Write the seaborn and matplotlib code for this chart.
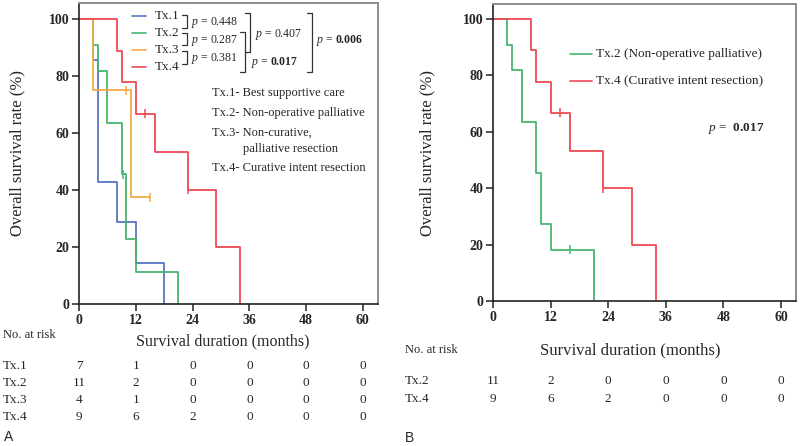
import matplotlib
matplotlib.use("Agg")
import matplotlib.pyplot as plt
import pandas as pd
import seaborn as sns
from matplotlib.lines import Line2D
from matplotlib.transforms import blended_transform_factory

# --- data (months, % surviving) ---
tx1_time = [0, 3, 4, 8, 12, 18]
tx1_surv = [100, 85.7, 42.9, 28.6, 14.3, 0]

tx2_time = [0, 3, 4, 6, 9, 10, 12, 21]
tx2_surv_a = [100, 90.9, 81.8, 63.6, 45.5, 22.7, 11.4, 0]
tx2_surv_b = [100, 90.9, 81.8, 63.6, 45.5, 27.3, 18.2, 0]

tx3_time = [0, 3, 11, 15]
tx3_surv = [100, 75, 37.5, 37.5]

tx4_time = [0, 8, 9, 12, 16, 23, 29, 34]
tx4_surv = [100, 88.9, 77.8, 66.7, 53.3, 40, 20, 0]

# censored observations
cens_a_group = ["Tx.2", "Tx.3", "Tx.3", "Tx.4", "Tx.4"]
cens_a_time = [9.3, 10, 15, 14, 23]
cens_a_surv = [45.5, 75, 37.5, 66.7, 40]
cens_b_group = ["Tx.2", "Tx.4", "Tx.4"]
cens_b_time = [16, 14, 23]
cens_b_surv = [18.2, 66.7, 40]

ticks = [0, 12, 24, 36, 48, 60]
risk_a = {"Tx.1": [7, 1, 0, 0, 0, 0],
          "Tx.2": [11, 2, 0, 0, 0, 0],
          "Tx.3": [4, 1, 0, 0, 0, 0],
          "Tx.4": [9, 6, 2, 0, 0, 0]}
risk_b = {"Tx.2": [11, 2, 0, 0, 0, 0],
          "Tx.4": [9, 6, 2, 0, 0, 0]}

palette = {"Tx.1": "#5676c4", "Tx.2": "#45b56e", "Tx.3": "#f5aa45", "Tx.4": "#ee4a55"}

sns.set_style("white")
plt.rcParams["font.family"] = ["Liberation Serif", "DejaVu Serif"]
plt.rcParams["mathtext.fontset"] = "custom"
plt.rcParams["mathtext.rm"] = "Liberation Serif"
plt.rcParams["mathtext.it"] = "Liberation Serif:italic"
plt.rcParams["mathtext.bf"] = "Liberation Serif:bold"

W, H = 800, 446
fig = plt.figure(figsize=(8, 4.46), dpi=100)


def px(x, y):
    return x / W, 1 - y / H


def curves(groups):
    rows = []
    for name, t, s in groups:
        for a, b in zip(t, s):
            rows.append({"group": name, "time": a, "surv": b})
    return pd.DataFrame(rows)


def style_axes(ax, xmax, ymax):
    ax.set_xlim(0, xmax)
    ax.set_ylim(0, ymax)
    ax.set_xticks(ticks)
    ax.set_yticks([0, 20, 40, 60, 80, 100])
    for s in ["top", "right"]:
        ax.spines[s].set_color("#8c8c8c")
        ax.spines[s].set_linewidth(1.4)
    for s in ["left", "bottom"]:
        ax.spines[s].set_color("#222222")
        ax.spines[s].set_linewidth(1.2)
    ax.tick_params(direction="out", length=5, width=1.1, color="#222222",
                   labelsize=10, pad=2, left=True, bottom=True)
    for lab in ax.get_xticklabels() + ax.get_yticklabels():
        lab.set_fontweight("bold")
    ax.set_xlabel("")
    ax.set_ylabel("Overall survival rate (%)", fontsize=12)


def km(ax, df, cens):
    sns.lineplot(data=df, x="time", y="surv", hue="group", palette=palette,
                 drawstyle="steps-post", estimator=None, sort=False,
                 linewidth=1.3, legend=False, ax=ax)
    sns.scatterplot(data=cens, x="time", y="surv", hue="group", palette=palette,
                    marker="|", s=40, linewidth=1.1, legend=False, ax=ax)


# ---------------- panel A ----------------
axA = fig.add_axes([79 / W, 1 - 304 / H, 299 / W, 301 / H])
dfA = curves([("Tx.1", tx1_time, tx1_surv), ("Tx.2", tx2_time, tx2_surv_a),
              ("Tx.3", tx3_time, tx3_surv), ("Tx.4", tx4_time, tx4_surv)])
censA = pd.DataFrame({"group": cens_a_group, "time": cens_a_time, "surv": cens_a_surv})
km(axA, dfA, censA)
style_axes(axA, 63.2, 105.6)
axA.yaxis.set_label_coords(-0.18, 0.5)

# legend with p-value brackets
leg_y = {"Tx.1": 16, "Tx.2": 33, "Tx.3": 50, "Tx.4": 67}
for name, y in leg_y.items():
    fig.add_artist(Line2D([132 / W, 146 / W], [1 - y / H] * 2, color=palette[name], lw=1.2))
    fig.text(*px(155, y), name, fontsize=9.5, va="center")


def bracket(x0, x1, y0, y1):
    xs = [x0 / W, x1 / W, x1 / W, x0 / W]
    ys = [1 - y0 / H, 1 - y0 / H, 1 - y1 / H, 1 - y1 / H]
    fig.add_artist(Line2D(xs, ys, color="#333333", lw=0.9))


bracket(182, 187, 15, 28)
bracket(182, 187, 33, 45)
bracket(182, 187, 51, 64)
fig.text(*px(191, 22), r"$p$ = 0.448", fontsize=8.5, va="center")
fig.text(*px(191, 40), r"$p$ = 0.287", fontsize=8.5, va="center")
fig.text(*px(191, 59), r"$p$ = 0.381", fontsize=8.5, va="center")
bracket(245, 250, 13, 52)
fig.text(*px(255, 34), r"$p$ = 0.407", fontsize=8.5, va="center")
bracket(240, 245, 32, 72)
fig.text(*px(251, 62), r"$p$ = $\mathbf{0.017}$", fontsize=8.5, va="center")
bracket(307, 312, 13, 72)
fig.text(*px(316, 41), r"$p$ = $\mathbf{0.006}$", fontsize=8.5, va="center")

defs = [(212, 93, "Tx.1- Best supportive care"),
        (212, 113, "Tx.2- Non-operative palliative"),
        (212, 133, "Tx.3- Non-curative,"),
        (243, 149, "palliative resection"),
        (212, 168, "Tx.4- Curative intent resection")]
for x, y, s in defs:
    fig.text(*px(x, y), s, fontsize=9, va="center")

# risk table A
fig.text(*px(3, 335), "No. at risk", fontsize=9, va="center")
fig.text(*px(223, 341), "Survival duration (months)", fontsize=11.5, va="center", ha="center")
trA = blended_transform_factory(axA.transData, fig.transFigure)
for i, (name, vals) in enumerate(risk_a.items()):
    y = 1 - (366 + 17 * i) / H
    fig.text(3 / W, y, name, fontsize=9.5, va="center")
    for t, v in zip(ticks, vals):
        axA.text(t, y, str(v), transform=trA, fontsize=9.5, ha="center", va="center")
fig.text(*px(4, 437), "A", fontsize=10, va="center", family="Liberation Sans")

# ---------------- panel B ----------------
axB = fig.add_axes([493 / W, 1 - 301 / H, 303 / W, 297 / H])
dfB = curves([("Tx.2", tx2_time, tx2_surv_b), ("Tx.4", tx4_time, tx4_surv)])
censB = pd.DataFrame({"group": cens_b_group, "time": cens_b_time, "surv": cens_b_surv})
km(axB, dfB, censB)
style_axes(axB, 63.1, 105.3)
axB.yaxis.set_label_coords(-0.19, 0.5)

for name, y, s in [("Tx.2", 54, "Tx.2 (Non-operative palliative)"),
                   ("Tx.4", 81, "Tx.4 (Curative intent resection)")]:
    fig.add_artist(Line2D([570 / W, 592 / W], [1 - y / H] * 2, color=palette[name], lw=1.2))
    fig.text(*px(596, y), s, fontsize=9.5, va="center")
fig.text(*px(708, 128), r"$p$ =  $\mathbf{0.017}$", fontsize=9.5, va="center")

fig.text(*px(405, 350), "No. at risk", fontsize=9, va="center")
fig.text(*px(630, 350), "Survival duration (months)", fontsize=12, va="center", ha="center")
trB = blended_transform_factory(axB.transData, fig.transFigure)
for i, (name, vals) in enumerate(risk_b.items()):
    y = 1 - (381 + 18 * i) / H
    fig.text(405 / W, y, name, fontsize=9.5, va="center")
    for t, v in zip(ticks, vals):
        axB.text(t, y, str(v), transform=trB, fontsize=9.5, ha="center", va="center")
fig.text(*px(405, 438), "B", fontsize=10, va="center", family="Liberation Sans")

fig.savefig("out.png", dpi=100)
